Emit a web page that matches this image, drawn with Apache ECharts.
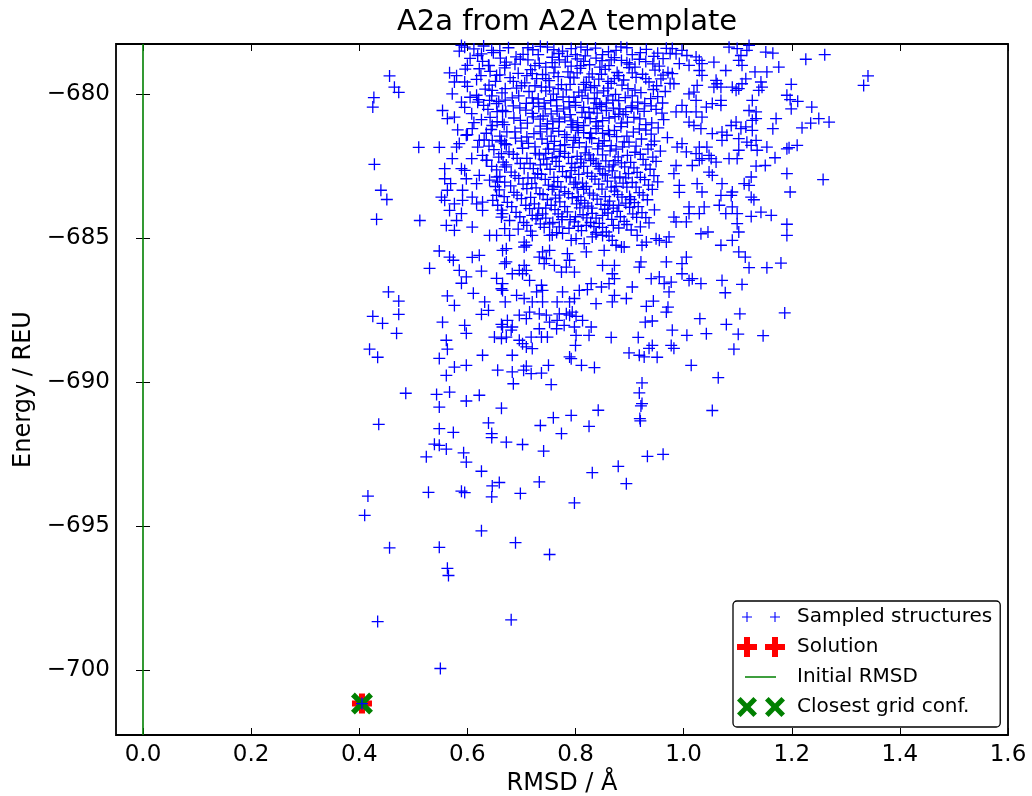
<!DOCTYPE html>
<html>
<head>
<meta charset="utf-8">
<script src="https://cdn.jsdelivr.net/npm/echarts@6/dist/echarts.min.js"></script>
<style>html,body{margin:0;padding:0;background:#fff}#c{width:1032px;height:796px}</style>
</head>
<body>
<div id="c"></div>
<script>
const titleText = 'A2a from A2A template';
const xName = 'RMSD / Å';
const yName = 'Energy / REU';
const xTicks = [0.0, 0.2, 0.4, 0.6, 0.8, 1.0, 1.2, 1.4, 1.6];
const yTicks = [-700, -695, -690, -685, -680];
const initialRmsd = 0.0;
const solution = [[0.405, -701.16]];
const closestGrid = [[0.405, -701.16]];

const sampledSparse = [
[0.456,-679.36],[0.465,-679.75],[0.473,-679.93],[0.427,-680.11],[0.425,-680.44],[0.51,-681.84],[0.548,-681.84],[0.428,-682.43],[0.44,-683.33],[0.451,-683.65],[0.432,-684.34],[0.512,-684.38],
[0.548,-685.44],[0.567,-685.65],[0.574,-685.76],[0.609,-685.66],[0.622,-685.59],[0.53,-686.04],[0.585,-686.11],[0.598,-686.34],[0.626,-686.14],[0.589,-686.56],[0.654,-686.39],[0.454,-686.86],[0.473,-687.18],[0.425,-687.71],[0.443,-687.95],[0.473,-687.64],[0.469,-688.3],[0.419,-688.85],[0.434,-689.13],[0.554,-687.91],[0.563,-687.0],[0.576,-687.33],[0.595,-688.02],[0.598,-688.3],[0.561,-688.54],[0.563,-688.85],[0.548,-689.17],[0.576,-689.47],[0.598,-689.41],[0.628,-689.06],[0.656,-689.58],[0.561,-689.76],[0.486,-690.38],[0.543,-690.42],[0.567,-690.34],[0.548,-690.86],[0.598,-690.65],[0.622,-690.45],[0.663,-690.9],[0.611,-686.91],[0.632,-687.21],[0.639,-687.5],[0.626,-687.64],[0.665,-686.81],[0.663,-687.99],[0.65,-688.43],[0.665,-685.42],
[0.436,-691.46],[0.548,-691.61],[0.574,-691.74],[0.639,-691.41],[0.645,-691.78],[0.645,-691.92],[0.672,-692.08],[0.702,-692.16],[0.735,-691.5],[0.774,-691.78],[0.825,-691.53],[0.741,-692.39],[0.539,-692.15],[0.548,-692.19],[0.561,-692.32],[0.524,-692.59],[0.593,-692.45],[0.598,-692.77],[0.626,-693.09],[0.659,-693.48],[0.646,-693.6],[0.733,-693.46],[0.698,-693.86],[0.645,-693.98],[0.589,-693.78],[0.595,-693.83],[0.528,-693.82],[0.416,-693.95],[0.41,-694.62],[0.626,-695.16],[0.689,-695.57],[0.752,-695.98],[0.456,-695.75],[0.548,-695.73],[0.563,-696.46],[0.565,-696.71],[0.434,-698.31],[0.681,-698.25],[0.55,-699.94],[0.831,-693.14],[0.879,-692.92],[0.894,-693.52],[0.933,-692.57],[0.962,-692.5],[0.798,-694.19],[0.92,-691.34],[0.405,-701.16]
];

const sampledMid = [
[0.866,-688.44],[0.916,-688.44],[0.899,-688.98],[0.918,-689.06],[0.927,-689.12],[0.951,-689.13],[0.942,-688.72],[0.936,-688.82],[0.977,-688.72],[0.982,-688.82],[0.979,-688.19],[0.929,-687.91],[0.942,-687.87],[0.931,-687.36],[0.944,-687.18],[0.971,-687.39],[0.968,-687.56],[0.8,-688.72],[0.789,-689.12],[0.792,-689.18],[0.75,-689.41],[0.811,-689.41],[0.835,-689.49],[0.683,-689.06],[0.709,-689.44],[0.704,-689.58],[0.718,-689.7],[0.737,-689.68],[0.683,-689.64],[0.685,-690.05],[0.755,-690.08],[0.923,-690.02],[0.918,-690.37],[0.923,-690.74],[0.921,-690.82],[0.919,-691.26],[0.842,-690.97],[0.792,-691.15],[0.759,-691.23],[0.801,-688.37],[0.825,-688.37],[0.798,-688.08],[0.829,-688.08],[0.813,-687.85],[0.789,-687.67],[0.801,-687.71],[0.779,-688.02],[0.765,-688.14],[0.748,-688.43],[0.733,-688.14],[0.737,-688.43],[0.718,-688.43],[0.696,-688.54],[0.702,-688.66],[0.709,-688.77],[0.72,-688.83],[0.672,-688.43],[0.663,-688.48],[0.665,-688.08],[0.683,-688.08],[0.681,-688.19],[0.752,-687.91],[0.766,-687.85],[0.77,-687.62],[0.783,-687.62],[0.794,-687.56],[0.696,-687.67],[0.715,-687.56],[0.709,-687.79],[0.733,-687.62],[0.746,-687.67],[0.674,-687.85],[0.739,-687.21],[0.72,-687.21],[0.705,-687.09],[0.691,-686.98],[0.67,-687.21],[0.766,-687.21],[0.789,-687.21],[0.798,-687.09],[0.776,-686.86],[0.807,-686.81],[0.822,-686.78],[0.838,-687.27],[0.868,-687.21],[0.894,-687.09],[0.829,-686.57],[0.848,-686.69],[0.862,-686.57],[0.872,-686.4],[0.872,-686.98],[0.905,-686.69],[0.737,-686.63],[0.739,-686.81],[0.728,-686.86],[0.715,-686.46],[0.702,-686.23],[0.709,-686.11],[0.705,-685.94],[0.669,-685.88],[0.663,-686.75],[0.783,-686.0],[0.798,-686.17],[0.774,-686.17],[0.761,-685.94],[0.742,-685.88],[0.85,-685.94],[0.872,-685.94],[0.918,-686.0],[0.921,-685.82],[0.94,-686.4],[0.955,-686.34],[0.968,-685.82],[0.964,-686.57],[0.977,-686.52],[0.973,-686.86],[0.82,-685.47],[0.816,-685.18],[0.831,-684.95],[0.853,-685.42],[0.875,-685.24],[0.885,-685.3],[0.914,-684.9],[0.923,-685.24],[0.955,-685.07],[0.973,-684.95],[0.785,-685.53],[0.789,-685.76],[0.739,-685.47],[0.733,-685.65],[0.705,-685.13],[0.705,-685.3],[0.672,-685.36],[0.672,-685.82],[0.678,-684.9],[0.72,-684.9],[0.752,-684.9],[0.801,-685.01],[0.85,-684.9],[0.709,-685.24],[0.757,-684.88],[0.776,-684.83],[0.792,-685.07],[0.838,-684.79],[0.862,-684.92],[0.868,-685.07],[0.89,-685.3],[0.752,-685.42],[0.746,-685.7],[0.868,-686.23],[0.931,-685.13],[0.949,-685.01],[0.968,-685.13],[0.665,-686.57],[0.696,-686.11],[0.683,-686.23],
[1.191,-684.9],[1.069,-685.24],[1.09,-685.07],[1.102,-685.47],[1.114,-685.65],[1.121,-686.02],[1.154,-686.02],[1.18,-685.86],[1.005,-685.65],[0.997,-685.88],[0.997,-686.23],[1.01,-686.46],[1.016,-686.4],[1.032,-686.57],[1.071,-686.46],[1.108,-686.6],[1.077,-686.89],[1.03,-687.79],[1.104,-687.62],[1.187,-687.59],[1.079,-687.99],[1.042,-688.31],[1.006,-688.37],[1.101,-688.33],[1.147,-688.38],[1.093,-688.85],[1.014,-689.41],[1.064,-689.84],[1.053,-690.98]
];

const sampledUpperLeft = [
[0.567,-679.25],[0.576,-679.57],[0.595,-679.57],[0.572,-679.98],[0.589,-680.27],[0.554,-680.56],[0.563,-680.84],[0.576,-680.79],[0.608,-680.67],[0.609,-681.19],[0.582,-681.23],[0.598,-681.42],[0.589,-678.3],[0.595,-678.36],[0.619,-678.65],[0.626,-678.59],[0.645,-678.47],[0.6,-678.99],[0.622,-679.11],[0.639,-678.99],[0.654,-679.34],[0.669,-678.99],[0.617,-680.03],[0.619,-680.27],[0.646,-679.86],[0.641,-680.21],[0.654,-680.32],[0.665,-680.56],[0.646,-681.08],[0.665,-680.96],[0.622,-681.6],[0.619,-681.83],[0.58,-681.83],[0.585,-681.71],[0.646,-681.6],[0.663,-681.6],[0.669,-681.71],[0.663,-682.06],[0.572,-682.23],[0.608,-682.23],[0.635,-682.29],[0.558,-682.58],[0.589,-682.58],[0.595,-682.64],[0.598,-682.93],[0.622,-682.81],[0.654,-682.87],[0.656,-683.04],[0.669,-682.52],[0.558,-682.93],[0.569,-683.1],[0.617,-683.1],[0.563,-683.33],[0.591,-683.33],[0.552,-683.57],[0.558,-683.68],[0.576,-683.8],[0.591,-683.68],[0.609,-683.57],[0.628,-683.74],[0.654,-683.51],[0.656,-683.85],[0.617,-683.8],[0.567,-684.03],[0.589,-684.14],[0.628,-684.03],[0.665,-684.14],[0.561,-684.55],[0.58,-684.38],[0.576,-684.72],[0.609,-684.61],[0.641,-684.9],[0.654,-684.9],[0.663,-684.26],[0.669,-684.66]
];

const sampledUpperRight = [
[1.226,-678.78],[1.261,-678.62],[1.199,-679.65],[1.191,-680.03],[1.197,-680.18],[1.199,-680.5],[1.211,-680.24],[1.237,-680.44],[1.25,-680.84],[1.235,-681.0],[1.269,-680.96],[1.219,-681.16],[1.171,-680.84],[1.165,-681.19],[1.176,-679.05],[1.154,-679.22],[1.132,-679.22],[1.143,-679.57],[1.115,-679.46],[1.108,-679.63],[1.152,-678.53],[1.165,-678.57],[1.121,-678.3],[1.191,-681.89],[1.195,-681.85],[1.21,-681.77],[1.154,-681.83],[1.136,-681.94],[1.169,-682.2],[1.151,-682.47],[1.134,-682.49],[1.191,-682.75],[1.258,-682.96],[1.197,-683.39],[1.125,-682.87],[1.112,-683.1],[1.121,-683.16],[1.13,-683.66],[1.125,-683.57],[1.143,-684.09],[1.162,-684.2],[1.125,-684.24],[1.099,-684.14],[1.099,-684.49],[1.102,-684.78],[1.191,-684.51],[1.078,-684.14],[1.09,-683.91],[1.088,-683.51],[1.09,-683.39],[1.071,-683.1],[1.069,-683.51],[1.066,-683.85],[1.053,-682.81],[1.047,-682.7],[1.025,-683.1],[1.034,-683.39],[1.038,-683.91],[1.029,-684.14],[1.01,-684.14],[1.01,-683.91],[1.005,-684.43],[1.045,-684.78],[1.032,-684.84],[0.982,-684.26],[0.986,-684.43],[0.992,-683.16],[0.982,-682.75],[0.986,-682.47],[1.016,-682.47],[1.029,-682.29],[1.034,-682.23],[1.047,-682.12],[1.051,-682.23],[1.06,-682.35],[1.084,-682.23],[1.099,-682.23],[1.102,-681.94],[1.117,-681.66],[1.125,-681.77],[1.134,-681.6],[1.102,-681.54],[1.088,-681.08],[1.097,-680.96],[1.106,-681.19],[1.115,-681.13],[1.127,-681.25],[1.127,-680.9],[1.134,-680.84],[1.134,-680.61],[1.121,-680.56],[1.127,-680.21],[1.145,-679.75],[1.139,-679.86],[1.069,-680.21],[1.069,-680.38],[1.053,-680.32],[1.042,-680.44],[1.034,-680.79],[1.023,-680.61],[1.01,-680.96],[1.019,-681.08],[1.032,-681.19],[1.071,-681.31],[1.053,-681.36],[1.071,-681.6],[1.08,-681.42],[1.029,-681.83],[1.023,-682.06],[1.043,-681.83],[0.997,-681.71],[1.005,-682.0],[0.988,-681.83],[1.06,-679.51],[1.062,-679.63],[1.069,-679.75],[1.056,-679.75],[1.09,-679.75],[1.097,-679.86],[1.102,-679.8],[1.078,-679.17],[1.056,-678.88],[1.102,-678.82],[1.106,-678.65],[1.108,-678.99],[1.099,-678.41],[1.084,-678.36],[1.117,-678.47],[1.034,-678.93],[1.029,-678.82],[1.023,-678.7],[1.029,-679.17],[1.034,-679.34],[1.025,-679.69],[1.01,-679.98],[1.019,-679.92],[1.023,-680.21],[0.997,-680.38],[1.005,-680.61],[0.986,-680.61],[0.982,-679.63],[0.979,-679.28],[0.992,-678.93],[1.01,-678.99],[1.006,-678.65],[0.986,-678.59],[0.997,-678.47],[0.979,-678.41],[0.992,-683.4],
[1.341,-679.36],[1.333,-679.69]
];

const sampledCore = [
[0.612,-678.42],[0.648,-678.55],[0.676,-678.38],[0.703,-678.61],[0.721,-678.45],[0.748,-678.36],[0.769,-678.58],[0.792,-678.41],[0.818,-678.66],[0.837,-678.39],[0.861,-678.52],[0.884,-678.35],[0.905,-678.62],[0.931,-678.44],[0.952,-678.57],[0.968,-678.4],
[0.628,-678.85],[0.661,-678.74],[0.688,-678.95],[0.712,-678.8],[0.733,-678.92],[0.757,-678.71],[0.781,-678.88],[0.803,-678.77],[0.826,-678.97],[0.849,-678.83],[0.872,-678.72],[0.895,-678.9],[0.918,-678.78],[0.943,-678.94],[0.962,-678.76],
[0.596,-679.12],[0.642,-679.2],[0.669,-679.08],[0.694,-679.27],[0.717,-679.14],[0.739,-679.31],[0.762,-679.05],[0.786,-679.22],[0.809,-679.1],[0.831,-679.29],[0.855,-679.13],[0.877,-679.24],[0.899,-679.07],[0.924,-679.3],[0.947,-679.16],[0.971,-679.24],
[0.617,-679.48],[0.652,-679.55],[0.679,-679.42],[0.706,-679.6],[0.728,-679.45],[0.751,-679.52],[0.774,-679.66],[0.797,-679.43],[0.82,-679.58],[0.843,-679.47],[0.866,-679.62],[0.889,-679.5],[0.912,-679.41],[0.936,-679.57],[0.958,-679.46],
[0.633,-679.82],[0.664,-679.95],[0.691,-679.78],[0.714,-679.9],[0.737,-679.75],[0.759,-679.99],[0.783,-679.84],[0.806,-679.92],[0.828,-679.76],[0.852,-679.88],[0.874,-680.0],[0.897,-679.8],[0.921,-679.94],[0.944,-679.83],[0.966,-679.9],
[0.621,-680.18],[0.658,-680.25],[0.683,-680.12],[0.709,-680.31],[0.731,-680.16],[0.754,-680.22],[0.777,-680.09],[0.8,-680.28],[0.823,-680.14],[0.845,-680.35],[0.869,-680.2],[0.892,-680.11],[0.915,-680.27],[0.939,-680.15],[0.961,-680.3],
[0.638,-680.52],[0.671,-680.6],[0.697,-680.47],[0.72,-680.66],[0.744,-680.5],[0.766,-680.58],[0.789,-680.44],[0.812,-680.63],[0.834,-680.49],[0.857,-680.56],[0.88,-680.69],[0.903,-680.46],[0.927,-680.59],[0.949,-680.52],
[0.626,-680.88],[0.655,-680.95],[0.686,-680.82],[0.711,-681.0],[0.735,-680.86],[0.758,-680.93],[0.78,-680.79],[0.804,-680.98],[0.827,-680.84],[0.85,-680.91],[0.873,-680.77],[0.896,-680.96],[0.919,-680.85],[0.941,-680.99],[0.963,-680.88],
[0.644,-681.22],[0.673,-681.3],[0.699,-681.17],[0.723,-681.36],[0.747,-681.2],[0.769,-681.28],[0.792,-681.14],[0.815,-681.33],[0.838,-681.19],[0.861,-681.26],[0.884,-681.12],[0.907,-681.31],[0.93,-681.24],[0.953,-681.16],
[0.631,-681.58],[0.662,-681.65],[0.689,-681.52],[0.713,-681.7],[0.738,-681.55],[0.761,-681.63],[0.784,-681.49],[0.807,-681.68],[0.83,-681.54],[0.853,-681.61],[0.876,-681.47],[0.899,-681.66],[0.922,-681.55],[0.946,-681.62],[0.97,-681.5],
[0.649,-681.92],[0.677,-682.0],[0.702,-681.87],[0.726,-682.05],[0.75,-681.9],[0.772,-681.98],[0.795,-681.84],[0.818,-682.03],[0.841,-681.89],[0.864,-681.96],[0.887,-681.82],[0.91,-682.01],[0.934,-681.9],[0.957,-681.97],
[0.636,-682.28],[0.666,-682.35],[0.692,-682.22],[0.716,-682.4],[0.741,-682.25],[0.764,-682.33],[0.787,-682.19],[0.81,-682.38],[0.833,-682.24],[0.856,-682.31],[0.879,-682.17],[0.902,-682.36],[0.925,-682.26],[0.949,-682.33],
[0.654,-682.62],[0.681,-682.7],[0.705,-682.57],[0.73,-682.75],[0.753,-682.6],[0.776,-682.68],[0.799,-682.54],[0.822,-682.73],[0.845,-682.59],[0.868,-682.66],[0.891,-682.52],[0.914,-682.71],[0.938,-682.6],
[0.641,-682.98],[0.669,-683.05],[0.695,-682.92],[0.719,-683.1],[0.744,-682.95],[0.767,-683.03],[0.79,-682.89],[0.813,-683.08],[0.836,-682.94],[0.859,-683.01],[0.882,-682.87],[0.905,-683.06],[0.928,-682.96],[0.952,-683.04],
[0.659,-683.32],[0.686,-683.4],[0.71,-683.27],[0.734,-683.45],[0.757,-683.3],[0.78,-683.38],[0.803,-683.24],[0.826,-683.43],[0.849,-683.29],[0.872,-683.36],[0.895,-683.22],[0.918,-683.41],[0.942,-683.3],
[0.647,-683.68],[0.674,-683.75],[0.7,-683.62],[0.724,-683.8],[0.748,-683.65],[0.771,-683.73],[0.794,-683.59],[0.817,-683.78],[0.84,-683.64],[0.863,-683.71],[0.886,-683.57],[0.909,-683.76],[0.933,-683.66],
[0.663,-684.02],[0.69,-684.1],[0.715,-683.97],[0.739,-684.15],[0.762,-684.0],[0.785,-684.08],[0.808,-683.94],[0.831,-684.13],[0.854,-683.99],[0.877,-684.06],[0.9,-683.92],[0.923,-684.11],[0.946,-684.01],
[0.678,-684.38],[0.704,-684.45],[0.727,-684.32],[0.752,-684.5],[0.775,-684.35],[0.798,-684.43],[0.821,-684.29],[0.844,-684.48],[0.867,-684.34],[0.89,-684.41],[0.913,-684.27],[0.936,-684.46],
[0.694,-684.68],[0.717,-684.75],[0.742,-684.62],[0.765,-684.8],[0.788,-684.65],[0.811,-684.73],[0.834,-684.59],[0.857,-684.78],[0.88,-684.64],[0.903,-684.71],
[0.731,-678.62],[0.776,-678.5],[0.822,-678.45],[0.866,-678.8],[0.81,-679.0],[0.745,-679.05],[0.79,-679.4],[0.835,-679.7],[0.88,-679.35],[0.725,-679.7],[0.765,-680.4],[0.815,-680.45],[0.86,-680.05],[0.905,-680.4],[0.74,-680.75],[0.795,-681.05],[0.842,-681.1],[0.888,-680.7],[0.755,-681.45],[0.8,-681.5],[0.85,-681.8],[0.77,-682.15],[0.825,-682.1],[0.87,-682.45],[0.735,-682.45],[0.783,-682.85],[0.83,-682.85],[0.875,-683.2],[0.76,-683.2],[0.805,-683.55],[0.855,-683.55],[0.78,-683.9],[0.83,-683.95],[0.88,-683.85],[0.73,-684.2],[0.8,-684.25],[0.85,-684.2],[0.82,-684.55],[0.77,-684.6],[0.87,-684.55],[0.712,-678.38],[0.757,-678.9],[0.8,-678.62],[0.845,-679.05],[0.9,-678.95],[0.71,-679.35],[0.752,-679.75],[0.797,-680.1],[0.838,-680.3],[0.882,-680.5],[0.722,-680.3],[0.77,-680.95],[0.818,-680.8],[0.863,-681.4],[0.735,-681.1],[0.78,-681.75],[0.828,-681.35],[0.875,-681.9],[0.745,-682.05],[0.793,-682.4],[0.842,-682.5],[0.893,-682.9],[0.725,-682.9],[0.77,-683.5],[0.815,-683.3],[0.86,-683.85],[0.9,-683.55],[0.745,-683.95],[0.79,-684.35],[0.838,-684.85],[0.76,-679.25],[0.815,-679.65],[0.86,-679.55],[0.79,-680.7],[0.84,-680.65],[0.805,-681.25],[0.76,-681.9],[0.81,-682.25],[0.855,-682.8],[0.8,-683.05],[0.775,-684.25]
];

const sampledCoreExtra = [
[0.585,-678.5],[0.63,-678.32],[0.66,-678.48],[0.69,-678.7],[0.735,-678.33],[0.76,-678.45],[0.785,-678.68],[0.81,-678.36],[0.85,-678.62],[0.875,-678.47],[0.895,-678.38],[0.92,-678.55],[0.945,-678.68],[0.975,-678.58],
[0.605,-678.75],[0.64,-679.0],[0.672,-678.88],[0.698,-678.78],[0.725,-679.0],[0.77,-678.8],[0.792,-679.02],[0.815,-678.85],[0.838,-678.74],[0.862,-679.0],[0.885,-678.82],[0.91,-679.05],[0.93,-678.86],[0.955,-679.02],
[0.58,-679.35],[0.625,-679.35],[0.66,-679.32],[0.685,-679.55],[0.72,-679.28],[0.745,-679.45],[0.768,-679.38],[0.803,-679.25],[0.825,-679.4],[0.848,-679.3],[0.872,-679.45],[0.905,-679.25],[0.93,-679.45],[0.962,-679.33],
[0.6,-679.72],[0.64,-679.68],[0.67,-679.8],[0.7,-679.7],[0.745,-679.88],[0.768,-679.8],[0.79,-679.65],[0.818,-679.85],[0.84,-679.95],[0.86,-679.78],[0.886,-679.68],[0.91,-679.85],[0.95,-679.7],[0.975,-679.62],
[0.605,-680.1],[0.645,-680.05],[0.67,-680.2],[0.695,-680.05],[0.72,-680.12],[0.742,-680.3],[0.765,-680.18],[0.788,-680.25],[0.812,-680.05],[0.835,-680.15],[0.857,-680.3],[0.88,-680.22],[0.905,-680.05],[0.928,-680.32],[0.952,-680.08],
[0.595,-680.45],[0.63,-680.38],[0.655,-680.6],[0.685,-680.4],[0.708,-680.55],[0.732,-680.42],[0.755,-680.68],[0.778,-680.5],[0.8,-680.38],[0.825,-680.62],[0.848,-680.42],[0.87,-680.48],[0.893,-680.6],[0.915,-680.5],[0.94,-680.4],[0.96,-680.65],
[0.612,-680.98],[0.642,-680.8],[0.668,-681.05],[0.698,-680.9],[0.722,-680.78],[0.748,-681.02],[0.77,-680.85],[0.792,-680.92],[0.815,-681.08],[0.838,-680.95],[0.862,-680.82],[0.885,-681.0],[0.908,-680.8],[0.93,-681.05],
[0.6,-681.4],[0.635,-681.35],[0.66,-681.45],[0.688,-681.3],[0.71,-681.48],[0.735,-681.3],[0.758,-681.18],[0.78,-681.4],[0.803,-681.15],[0.826,-681.5],[0.85,-681.35],[0.872,-681.25],[0.895,-681.45],[0.918,-681.2],[0.94,-681.38],
[0.64,-681.8],[0.672,-681.75],[0.7,-681.62],[0.725,-681.82],[0.748,-681.7],[0.772,-681.78],[0.797,-681.6],[0.82,-681.82],[0.843,-681.7],[0.866,-681.78],[0.89,-681.65],[0.912,-681.8],[0.94,-681.75],
[0.628,-682.12],[0.658,-682.18],[0.685,-682.08],[0.71,-682.22],[0.733,-682.1],[0.757,-682.2],[0.78,-682.05],[0.803,-682.15],[0.828,-682.3],[0.85,-682.1],[0.873,-682.3],[0.896,-682.12],[0.92,-682.08],[0.943,-682.18],
[0.645,-682.5],[0.672,-682.45],[0.698,-682.4],[0.722,-682.58],[0.747,-682.42],[0.77,-682.5],[0.792,-682.65],[0.815,-682.5],[0.838,-682.4],[0.862,-682.52],[0.885,-682.38],[0.908,-682.55],[0.93,-682.45],
[0.66,-682.85],[0.688,-682.82],[0.712,-682.9],[0.737,-682.78],[0.76,-682.88],[0.806,-682.78],[0.85,-682.75],[0.873,-682.9],[0.898,-682.75],[0.92,-682.88],[0.945,-682.82],
[0.652,-683.2],[0.68,-683.18],[0.703,-683.12],[0.727,-683.25],[0.75,-683.15],[0.773,-683.22],[0.797,-683.12],[0.82,-683.2],[0.843,-683.12],[0.866,-683.22],[0.888,-683.08],[0.912,-683.22],[0.935,-683.15],
[0.668,-683.55],[0.692,-683.5],[0.717,-683.58],[0.74,-683.48],[0.763,-683.6],[0.787,-683.45],[0.81,-683.68],[0.833,-683.5],[0.878,-683.48],[0.902,-683.65],[0.925,-683.5],
[0.682,-683.9],[0.708,-683.85],[0.732,-683.95],[0.755,-683.85],[0.802,-683.8],[0.823,-683.88],[0.847,-683.82],[0.87,-683.95],[0.893,-683.78],[0.916,-683.9],
[0.697,-684.25],[0.72,-684.2],[0.745,-684.3],[0.768,-684.15],[0.814,-684.18],[0.838,-684.3],[0.86,-684.12],[0.883,-684.25],[0.906,-684.15],[0.93,-684.28],
[0.71,-684.55],[0.735,-684.5],[0.758,-684.45],[0.805,-684.58],[0.828,-684.45],[0.85,-684.62],[0.895,-684.52],[0.92,-684.6]
];

const sampled = [].concat(sampledSparse, sampledMid, sampledUpperLeft, sampledUpperRight, sampledCore, sampledCoreExtra);

// ---- styling helpers ----
const FONT = 'DejaVu Sans';
function plusPath(cx, cy, h, t) {
  const a = t / 2;
  return `M${cx-a},${cy-h}H${cx+a}V${cy-a}H${cx+h}V${cy+a}H${cx+a}V${cy+h}H${cx-a}V${cy+a}H${cx-h}V${cy-a}H${cx-a}Z`;
}
function xPath(cx, cy, h, d) {
  const p = [[cx-h,cy-h+d],[cx-h+d,cy-h],[cx,cy-d],[cx+h-d,cy-h],[cx+h,cy-h+d],[cx+d,cy],[cx+h,cy+h-d],[cx+h-d,cy+h],[cx,cy+d],[cx-h+d,cy+h],[cx-h,cy+h-d],[cx-d,cy]];
  return 'M' + p.map(q => q[0] + ',' + q[1]).join('L') + 'Z';
}
const LW = 56, LH = 22;
const frame = `M0,0h0.01v0.01h-0.01ZM${LW},${LH}h-0.01v-0.01h0.01Z`;
const c1 = 11, c2 = 39, cy = 11;
const iconSampled = 'path://' + frame + plusPath(c1, cy, 5, 1.1) + plusPath(c2, cy, 5, 1.1);
const iconSolution = 'path://' + frame + plusPath(c1, cy, 10, 6) + plusPath(c2, cy, 10, 6);
const iconLine = 'path://' + frame + `M9,10.25H40V11.75H9Z`;
const iconClosest = 'path://' + frame + xPath(c1, cy, 10, 3.6) + xPath(c2, cy, 10, 3.6);

const symPlusThin = 'path://' + plusPath(6, 6, 6, 1.3);
const symPlusThick = 'path://' + plusPath(10, 10, 10, 6);
const symX = 'path://' + xPath(10, 10, 10, 3.5);

const minus = v => (v < 0 ? '\u2212' + Math.abs(v) : String(v));

const chart = echarts.init(document.getElementById('c'), null, {renderer: 'canvas'});
const tickTxt = {fontFamily: FONT, fontSize: 23, color: '#000'};
const nameTxt = {fontFamily: FONT, fontSize: 24, color: '#000'};
chart.setOption({
  animation: false,
  backgroundColor: '#fff',
  title: {
    text: titleText, left: 562, top: 3, textAlign: 'center',
    textStyle: {fontFamily: FONT, fontSize: 29, fontWeight: 'normal', color: '#000'}
  },
  grid: {left: 116, right: 24, top: 44, bottom: 61, show: true, borderColor: '#000', borderWidth: 1.8, backgroundColor: 'transparent', outerBoundsMode: 'none', containLabel: false},
  legend: {
    orient: 'vertical', left: 733, top: 601,
    itemWidth: LW, itemHeight: LH, itemGap: 8,
    padding: [5, 8, 9, 3],
    borderColor: '#000', borderWidth: 1.3, borderRadius: 4, backgroundColor: '#fff',
    symbolKeepAspect: true, selectedMode: false,
    textStyle: {fontFamily: FONT, fontSize: 20, color: '#000'},
    data: [
      {name: 'Sampled structures', icon: iconSampled, itemStyle: {color: '#0000ff', opacity: 1}},
      {name: 'Solution', icon: iconSolution, itemStyle: {color: '#ff0000', opacity: 1}},
      {name: 'Initial RMSD', icon: iconLine, itemStyle: {color: '#008000', opacity: 1}},
      {name: 'Closest grid conf.', icon: iconClosest, itemStyle: {color: '#008000', opacity: 1}}
    ]
  },
  xAxis: [{
    type: 'value', min: -0.05, max: 1.6, position: 'bottom',
    axisLine: {show: false}, splitLine: {show: false},
    axisTick: {inside: true, length: 7, lineStyle: {color: '#000', width: 1}, customValues: xTicks},
    axisLabel: {customValues: xTicks, formatter: v => v.toFixed(1), margin: 9, ...tickTxt},
    name: xName, nameLocation: 'middle', nameGap: 37, nameTextStyle: nameTxt
  }, {
    type: 'value', min: -0.05, max: 1.6, position: 'top',
    axisLine: {show: false}, splitLine: {show: false},
    axisTick: {inside: true, length: 7, lineStyle: {color: '#000', width: 1}, customValues: xTicks},
    axisLabel: {show: false}
  }],
  yAxis: [{
    type: 'value', min: -702.25, max: -678.25, position: 'left',
    axisLine: {show: false}, splitLine: {show: false},
    axisTick: {inside: true, length: 7, lineStyle: {color: '#000', width: 1}, customValues: yTicks},
    axisLabel: {customValues: yTicks, formatter: minus, margin: 6, ...tickTxt},
    name: yName, nameLocation: 'middle', nameGap: 80, nameRotate: 90, nameTextStyle: nameTxt
  }, {
    type: 'value', min: -702.25, max: -678.25, position: 'right',
    axisLine: {show: false}, splitLine: {show: false},
    axisTick: {inside: true, length: 7, lineStyle: {color: '#000', width: 1}, customValues: yTicks},
    axisLabel: {show: false}
  }],
  series: [
    {
      name: 'Sampled structures', type: 'scatter', z: 5, data: sampled,
      symbol: symPlusThin, symbolSize: 12, itemStyle: {color: '#0000ff', opacity: 1},
      emphasis: {disabled: true}, silent: true
    },
    {
      name: 'Solution', type: 'scatter', z: 3, data: solution,
      symbol: symPlusThick, symbolSize: 20, itemStyle: {color: '#ff0000', opacity: 1},
      emphasis: {disabled: true}, silent: true
    },
    {
      name: 'Initial RMSD', type: 'scatter', z: 2, data: [],
      itemStyle: {color: '#008000', opacity: 1},
      markLine: {
        silent: true, symbol: ['none', 'none'], label: {show: false},
        lineStyle: {color: '#008000', width: 1.6, type: 'solid', opacity: 1},
        data: [{xAxis: initialRmsd}]
      }
    },
    {
      name: 'Closest grid conf.', type: 'scatter', z: 4, data: closestGrid,
      symbol: symX, symbolSize: 22, itemStyle: {color: '#008000', opacity: 1},
      emphasis: {disabled: true}, silent: true
    }
  ]
});
</script>
</body>
</html>
